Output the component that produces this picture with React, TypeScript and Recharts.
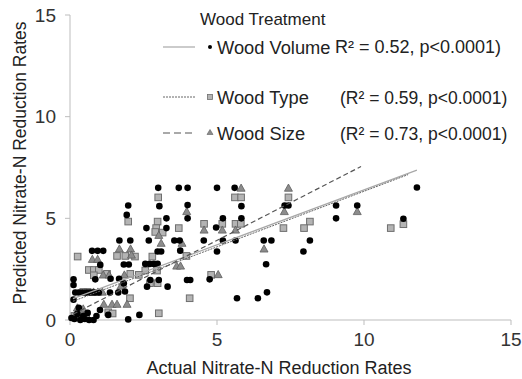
import React from 'react';
import { ScatterChart, Scatter, XAxis, YAxis } from 'recharts';

const FONT = 'Liberation Sans, Arial, sans-serif';

const axisTicks = [0, 5, 10, 15];

const woodVolume = [
  { x: 3.0, y: 6.5 }, { x: 3.7, y: 6.5 }, { x: 4.0, y: 6.5 }, { x: 5.0, y: 6.5 }, { x: 5.6, y: 6.5 }, { x: 11.8, y: 6.52 },
  { x: 1.98, y: 5.63 }, { x: 3.04, y: 5.6 }, { x: 4.0, y: 5.65 }, { x: 5.83, y: 5.6 }, { x: 7.3, y: 5.63 }, { x: 7.43, y: 5.63 }, { x: 9.05, y: 5.63 }, { x: 9.77, y: 5.63 },
  { x: 1.93, y: 5.17 }, { x: 3.28, y: 5.0 }, { x: 4.0, y: 5.0 }, { x: 5.2, y: 5.0 }, { x: 5.83, y: 5.0 }, { x: 9.05, y: 5.0 }, { x: 11.34, y: 4.98 },
  { x: 2.6, y: 4.52 }, { x: 3.28, y: 4.52 }, { x: 4.97, y: 4.55 },
  { x: 1.68, y: 3.91 }, { x: 2.05, y: 3.91 }, { x: 2.68, y: 3.91 }, { x: 3.55, y: 3.91 }, { x: 3.73, y: 3.91 }, { x: 4.55, y: 3.91 }, { x: 5.2, y: 3.91 }, { x: 5.63, y: 3.91 }, { x: 6.59, y: 3.91 }, { x: 6.85, y: 3.91 }, { x: 8.16, y: 3.91 },
  { x: 0.75, y: 3.4 }, { x: 0.94, y: 3.4 }, { x: 1.13, y: 3.4 }, { x: 2.98, y: 3.37 }, { x: 3.1, y: 3.37 }, { x: 3.75, y: 3.41 }, { x: 5.0, y: 3.37 }, { x: 7.94, y: 3.37 },
  { x: 1.03, y: 2.71 }, { x: 1.83, y: 2.73 }, { x: 2.0, y: 2.73 }, { x: 2.56, y: 2.76 }, { x: 2.71, y: 2.76 }, { x: 2.85, y: 2.76 }, { x: 2.98, y: 2.76 }, { x: 6.67, y: 2.74 },
  { x: 0.12, y: 2.0 }, { x: 0.86, y: 2.0 }, { x: 1.38, y: 2.03 }, { x: 1.67, y: 2.03 }, { x: 2.73, y: 1.97 }, { x: 3.02, y: 1.97 }, { x: 3.98, y: 1.97 }, { x: 4.09, y: 1.97 }, { x: 4.75, y: 2.0 },
  { x: 0.12, y: 1.72 }, { x: 1.83, y: 1.8 }, { x: 2.62, y: 1.64 }, { x: 3.32, y: 1.64 },
  { x: 0.18, y: 1.35 }, { x: 0.3, y: 1.35 }, { x: 0.42, y: 1.35 }, { x: 0.55, y: 1.35 }, { x: 0.65, y: 1.35 }, { x: 0.75, y: 1.35 }, { x: 0.85, y: 1.35 }, { x: 0.98, y: 1.35 }, { x: 1.36, y: 1.35 }, { x: 1.64, y: 1.35 }, { x: 1.87, y: 1.4 }, { x: 6.7, y: 1.36 },
  { x: 0.12, y: 1.0 }, { x: 5.68, y: 1.07 }, { x: 6.39, y: 1.07 },
  { x: 1.02, y: 0.49 }, { x: 1.3, y: 0.25 }, { x: 2.36, y: 0.25 },
  { x: 0.05, y: 0.1 }, { x: 0.15, y: 0.05 }, { x: 0.25, y: 0.3 }, { x: 0.35, y: 0.0 }, { x: 0.45, y: 0.2 }, { x: 0.5, y: 0.05 }, { x: 0.6, y: 0.35 }, { x: 0.65, y: 0.0 }, { x: 0.8, y: 0.0 }, { x: 0.9, y: 0.2 }, { x: 1.98, y: 0.03 }, { x: 0.3, y: 0.6 },
];

const woodType = [
  { x: 3.0, y: 6.03 }, { x: 5.61, y: 6.03 }, { x: 5.82, y: 6.03 }, { x: 7.43, y: 6.03 },
  { x: 1.98, y: 4.84 }, { x: 2.98, y: 4.84 }, { x: 8.16, y: 4.84 },
  { x: 4.56, y: 4.73 }, { x: 5.18, y: 4.73 }, { x: 5.63, y: 4.73 }, { x: 5.81, y: 4.73 }, { x: 11.34, y: 4.71 },
  { x: 2.93, y: 4.52 }, { x: 3.7, y: 4.52 }, { x: 7.26, y: 4.52 }, { x: 7.96, y: 4.52 }, { x: 10.91, y: 4.52 },
  { x: 3.15, y: 4.3 }, { x: 2.9, y: 4.33 },
  { x: 0.26, y: 3.12 }, { x: 1.6, y: 3.15 }, { x: 1.88, y: 3.15 }, { x: 2.21, y: 3.12 }, { x: 2.8, y: 3.12 }, { x: 3.96, y: 3.15 },
  { x: 0.64, y: 2.46 }, { x: 0.81, y: 2.46 }, { x: 0.98, y: 2.46 }, { x: 2.56, y: 2.43 }, { x: 2.96, y: 2.43 },
  { x: 0.81, y: 2.2 }, { x: 1.26, y: 2.27 }, { x: 2.05, y: 2.27 }, { x: 2.34, y: 2.22 }, { x: 4.8, y: 2.22 },
  { x: 2.72, y: 1.81 }, { x: 2.98, y: 1.81 },
  { x: 2.04, y: 1.07 }, { x: 4.07, y: 1.07 },
  { x: 1.3, y: 0.38 }, { x: 1.45, y: 0.32 }, { x: 3.02, y: 0.33 },
  { x: 0.45, y: 1.38 }, { x: 0.6, y: 1.38 },
  { x: 0.15, y: 0.2 }, { x: 0.3, y: 0.35 }, { x: 0.4, y: 0.15 }, { x: 0.55, y: 0.3 },
];

const woodSize = [
  { x: 5.82, y: 6.49 }, { x: 7.43, y: 6.49 },
  { x: 3.97, y: 5.34 }, { x: 7.29, y: 5.34 }, { x: 9.77, y: 5.34 },
  { x: 4.56, y: 4.43 }, { x: 5.18, y: 4.43 }, { x: 5.63, y: 4.43 },
  { x: 3.02, y: 4.17 }, { x: 3.1, y: 3.78 }, { x: 3.81, y: 3.78 },
  { x: 1.68, y: 3.5 }, { x: 2.06, y: 3.5 }, { x: 6.6, y: 3.5 },
  { x: 0.76, y: 2.99 }, { x: 0.94, y: 2.99 }, { x: 2.09, y: 3.2 },
  { x: 3.63, y: 2.66 }, { x: 3.76, y: 2.66 },
  { x: 1.13, y: 2.22 }, { x: 1.33, y: 2.22 }, { x: 1.85, y: 2.22 }, { x: 5.04, y: 2.24 },
  { x: 1.73, y: 1.67 },
  { x: 1.15, y: 0.78 }, { x: 1.43, y: 0.78 }, { x: 1.6, y: 0.78 }, { x: 1.94, y: 0.78 },
  { x: 0.8, y: 1.38 }, { x: 0.95, y: 1.38 }, { x: 1.1, y: 1.38 },
  { x: 0.25, y: 0.6 }, { x: 0.35, y: 0.45 }, { x: 0.2, y: 0.3 }, { x: 0.45, y: 0.55 },
];

const trendVolume = [{ x: 0.1, y: 1.05 }, { x: 11.8, y: 7.37 }];
const trendType = [{ x: 0.1, y: 0.92 }, { x: 11.5, y: 7.15 }];
const trendSize = [{ x: 0.1, y: 0.28 }, { x: 9.9, y: 7.55 }];

const legendTitle = 'Wood Treatment';
const legendNames = ['Wood Volume', 'Wood Type', 'Wood Size'];
const legendStats = ['R² = 0.52, p<0.0001)', '(R² = 0.59, p<0.0001)', '(R² = 0.73, p<0.0001)'];

const xTitle = 'Actual Nitrate-N Reduction Rates';
const yTitle = 'Predicted Nitrate-N Reduction Rates';

const Dot = (p: any) => <circle cx={p.cx} cy={p.cy} r={3.3} fill="#000" />;
const Sq = (p: any) => (
  <rect x={p.cx - 3.3} y={p.cy - 3.3} width={6.6} height={6.6} fill="#b4b4b4" stroke="#6e6e6e" strokeWidth={1} />
);
const Tri = (p: any) => (
  <polygon
    points={`${p.cx},${p.cy - 4} ${p.cx + 4},${p.cy + 3.2} ${p.cx - 4},${p.cy + 3.2}`}
    fill="#8c8c8c"
    stroke="#5e5e5e"
    strokeWidth={0.8}
  />
);
const NoShape = () => <g />;

export default function App() {
  return (
    <div style={{ position: 'absolute', left: 0, top: 0, width: 522, height: 379, background: '#fff', fontFamily: FONT }}>
      <ScatterChart width={522} height={379} margin={{ top: 15, right: 11, bottom: 0, left: 0 }}>
        <XAxis
          type="number"
          dataKey="x"
          domain={[0, 15]}
          ticks={axisTicks}
          height={59}
          tickSize={5}
          tickMargin={8}
          stroke="#bdbdbd"
          tick={{ fill: '#333', fontSize: 19, fontFamily: FONT }}
        />
        <YAxis
          type="number"
          dataKey="y"
          domain={[0, 15]}
          ticks={axisTicks}
          width={70}
          tickSize={5}
          tickMargin={9}
          stroke="#bdbdbd"
          tick={{ fill: '#333', fontSize: 19, fontFamily: FONT }}
        />
        <Scatter data={woodType} shape={Sq} isAnimationActive={false} />
        <Scatter data={woodSize} shape={Tri} isAnimationActive={false} />
        <Scatter data={woodVolume} shape={Dot} isAnimationActive={false} />
        <Scatter data={trendVolume} shape={NoShape} line={{ stroke: '#a8a8a8', strokeWidth: 1.2 }} isAnimationActive={false} />
        <Scatter data={trendType} shape={NoShape} line={{ stroke: '#666', strokeWidth: 1, strokeDasharray: '2 1' }} isAnimationActive={false} />
        <Scatter data={trendSize} shape={NoShape} line={{ stroke: '#555', strokeWidth: 1.2, strokeDasharray: '5 3' }} isAnimationActive={false} />
      </ScatterChart>
      <svg width={522} height={379} style={{ position: 'absolute', left: 0, top: 0, pointerEvents: 'none' }}>
        <g fontFamily={FONT} fill="#222">
          <text x={200} y={25} fontSize={17}>{legendTitle}</text>
          <line x1={163} x2={195} y1={47} y2={47} stroke="#a8a8a8" strokeWidth={1.2} />
          <circle cx={210} cy={47} r={2} fill="#000" />
          <text x={217} y={54} fontSize={18.3}>{legendNames[0]}</text>
          <text x={335} y={53} fontSize={18}>{legendStats[0]}</text>
          <line x1={163} x2={195} y1={97} y2={97} stroke="#666" strokeWidth={1} strokeDasharray="2 1" />
          <rect x={207.5} y={94.5} width={5} height={5} fill="#b4b4b4" stroke="#6e6e6e" strokeWidth={0.8} />
          <text x={217} y={104} fontSize={18.3}>{legendNames[1]}</text>
          <text x={340} y={104} fontSize={17.5}>{legendStats[1]}</text>
          <line x1={163} x2={195} y1={133} y2={133} stroke="#555" strokeWidth={1.2} strokeDasharray="7 4" />
          <polygon points="210,129.5 213,134.5 207,134.5" fill="#8c8c8c" stroke="#5e5e5e" strokeWidth={0.6} />
          <text x={217} y={140} fontSize={18.3}>{legendNames[2]}</text>
          <text x={340} y={140} fontSize={17.5}>{legendStats[2]}</text>
          <text x={279} y={374} fontSize={18} textAnchor="middle">{xTitle}</text>
          <text x={0} y={0} fontSize={17.5} textAnchor="middle" transform="translate(26,163) rotate(-90)">{yTitle}</text>
        </g>
      </svg>
    </div>
  );
}
